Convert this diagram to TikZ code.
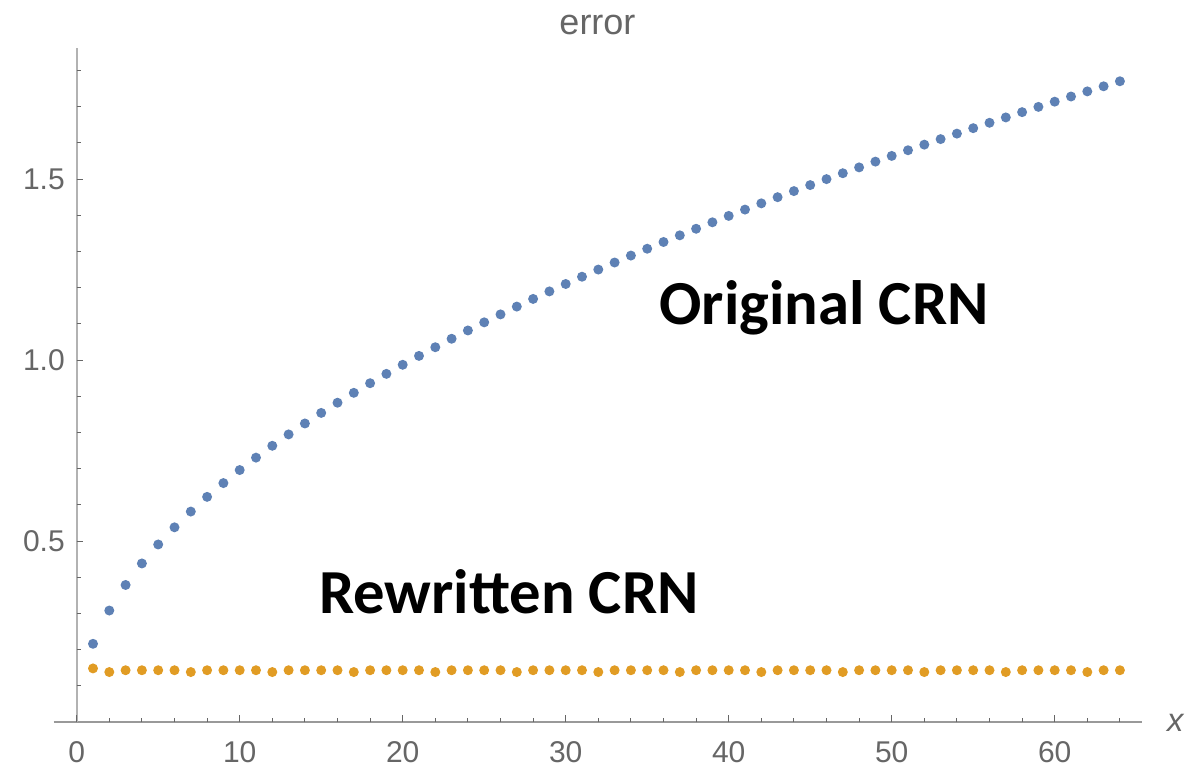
\documentclass[tikz,border=0pt]{standalone}
\usepackage{fontspec}
\newfontfamily\plotfont{Liberation Sans}
\newfontfamily\notefont{Carlito}
\definecolor{dotblue}{HTML}{5E81B5}
\definecolor{dotorange}{HTML}{E19C24}
\definecolor{labgray}{HTML}{666666}

\begin{document}
\begin{tikzpicture}[
  x=12.225pt, y=271.5pt,
  axis/.style={draw=black!40, line width=1pt},
  yaxis/.style={draw=black!30, line width=1.2pt},
  tick/.style={draw=black!60, line width=0.7pt},
  ticklab/.style={font=\fontsize{22.5}{24}\selectfont\plotfont, text=labgray, inner sep=0pt},
  note/.style={font=\fontsize{47}{52}\selectfont\notefont\bfseries, inner sep=0pt, anchor=base},
  dotb/.style={fill=dotblue},
  doto/.style={fill=dotorange},
]
\useasboundingbox (-4.7055,-0.12707) rectangle (68.362,1.99448);

% axes
\coordinate (xa0) at (-1.41,0);
\coordinate (xa1) at (65.34,0);
\coordinate (ya0) at (0,0);
\coordinate (ya1) at (0,1.862);
\draw[axis] (xa0) -- (xa1);
\draw[yaxis] (ya0) -- (ya1);

% ticks
\foreach \t in {0,2,...,64}
  \draw[tick] (\t,0) -- ++(0pt,2.8pt);
\foreach \t in {0,10,...,60}
  \draw[tick] (\t,0) -- ++(0pt,5.3pt);
\foreach \v in {0.1,0.2,...,1.85}
  \draw[tick] (0,\v) -- ++(3pt,0pt);
\foreach \v in {0.5,1.0,1.5}
  \draw[tick] (0,\v) -- ++(5pt,0pt);

% tick labels
\foreach \t in {0,10,...,60}
  \node[ticklab, anchor=base] (xl\t) at (\t,-0.113) {\t};
\foreach \v/\n in {0.5/a,1.0/b,1.5/c}
  \node[ticklab, anchor=east] (yl\n) at (-0.718,\v) {\v};
\node[ticklab, anchor=base, font=\fontsize{24.5}{26}\selectfont\plotfont\itshape] (xlab) at (67.4,-0.0276) {x};
\node[ticklab, anchor=base, font=\fontsize{27}{30}\selectfont\plotfont] (ttl) at (31.95,1.898) {error};

% data
\foreach \i in {1,...,64}{
  \pgfmathsetmacro\yo{ifthenelse(\i==1,0.148,ifthenelse(mod(\i,5)==2,0.138,0.143))}
  \fill[doto] (\i,\yo) circle[radius=3.75pt];
}
\foreach \i in {1,...,64}{
  \pgfmathsetmacro\yb{0.222*sqrt(\i)-0.006}
  \fill[dotb] (\i,\yb) circle[radius=3.75pt];
}

% annotations
\node[note] (orig) at (45.85,1.0994) {Original CRN};
\node[note] (rewr) at (26.52,0.301) {Rewritten CRN};
\end{tikzpicture}
\end{document}
